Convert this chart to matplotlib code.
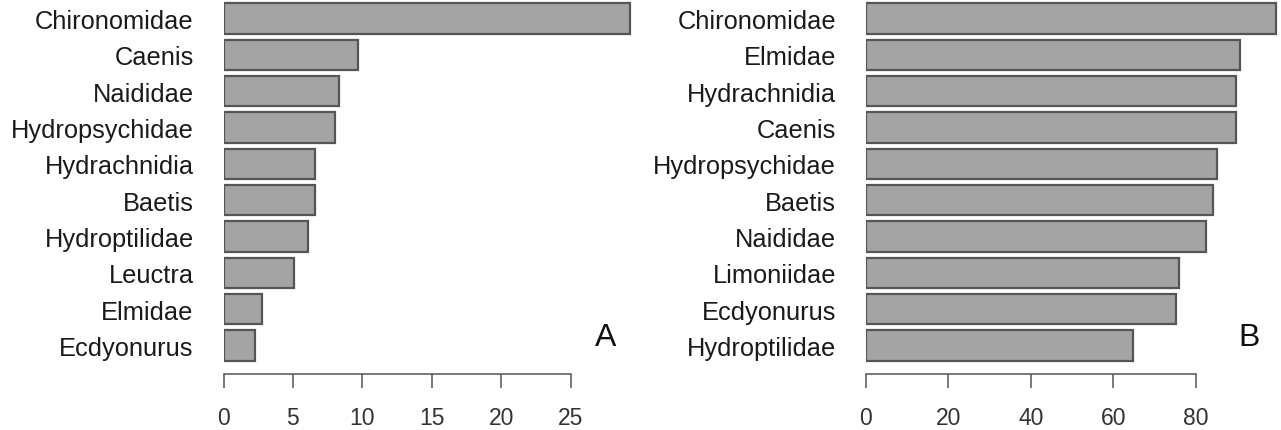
import matplotlib
matplotlib.use("Agg")
import matplotlib.pyplot as plt
import numpy as np

plt.rcParams['font.family'] = ['Liberation Sans', 'DejaVu Sans']

# panel A (top to bottom)
taxa_a = ['Chironomidae', 'Caenis', 'Naididae', 'Hydropsychidae', 'Hydrachnidia',
          'Baetis', 'Hydroptilidae', 'Leuctra', 'Elmidae', 'Ecdyonurus']
vals_a = [29.3, 9.7, 8.3, 8.0, 6.6, 6.6, 6.1, 5.1, 2.8, 2.3]
ticks_a = [0, 5, 10, 15, 20, 25]

# panel B (top to bottom)
taxa_b = ['Chironomidae', 'Elmidae', 'Hydrachnidia', 'Caenis', 'Hydropsychidae',
          'Baetis', 'Naididae', 'Limoniidae', 'Ecdyonurus', 'Hydroptilidae']
vals_b = [99.5, 90.8, 89.9, 89.7, 85.2, 84.2, 82.5, 76.0, 75.2, 64.9]
ticks_b = [0, 20, 40, 60, 80]

W, H = 1281, 431
fig = plt.figure(figsize=(W / 100, H / 100), dpi=100)

bar_col = '#a4a4a4'
edge_col = '#555555'


def panel(left_px, right_px, xmax, taxa, vals, ticks, letter, letter_xy):
    ax = fig.add_axes([left_px / W, (H - 375) / H, (right_px - left_px) / W, 375 / H])
    n = len(taxa)
    ypos = np.arange(n)[::-1] * 1.2
    ax.barh(ypos, vals, height=1.0, color=bar_col, edgecolor=edge_col, linewidth=1.6)
    ax.set_xlim(0, xmax)
    ax.set_ylim(-0.941, 11.44)
    ax.set_yticks(ypos)
    ax.set_yticklabels(taxa, fontsize=18.3, color='#1a1a1a')
    ax.tick_params(axis='y', length=0, pad=21.5)
    ax.set_xticks(ticks)
    ax.set_xticklabels([str(t) for t in ticks], fontsize=16.5, color='#333333')
    ax.tick_params(axis='x', length=10, width=1.1, color=edge_col, pad=13)
    for s in ['top', 'right', 'left']:
        ax.spines[s].set_visible(False)
    ax.spines['bottom'].set_bounds(ticks[0], ticks[-1])
    ax.spines['bottom'].set_color(edge_col)
    ax.spines['bottom'].set_linewidth(1.1)
    ax.patch.set_alpha(0)
    fig.text(letter_xy[0] / W, 1 - letter_xy[1] / H, letter, fontsize=23,
             ha='center', va='center', color='#111111')
    return ax


panel(223.5, 640, (640 - 223.5) / 13.89, taxa_a, vals_a, ticks_a, 'A', (606, 338))
panel(866, 1281, (1281 - 866) / 4.121, taxa_b, vals_b, ticks_b, 'B', (1249, 338))

fig.savefig('out.png', dpi=100)
